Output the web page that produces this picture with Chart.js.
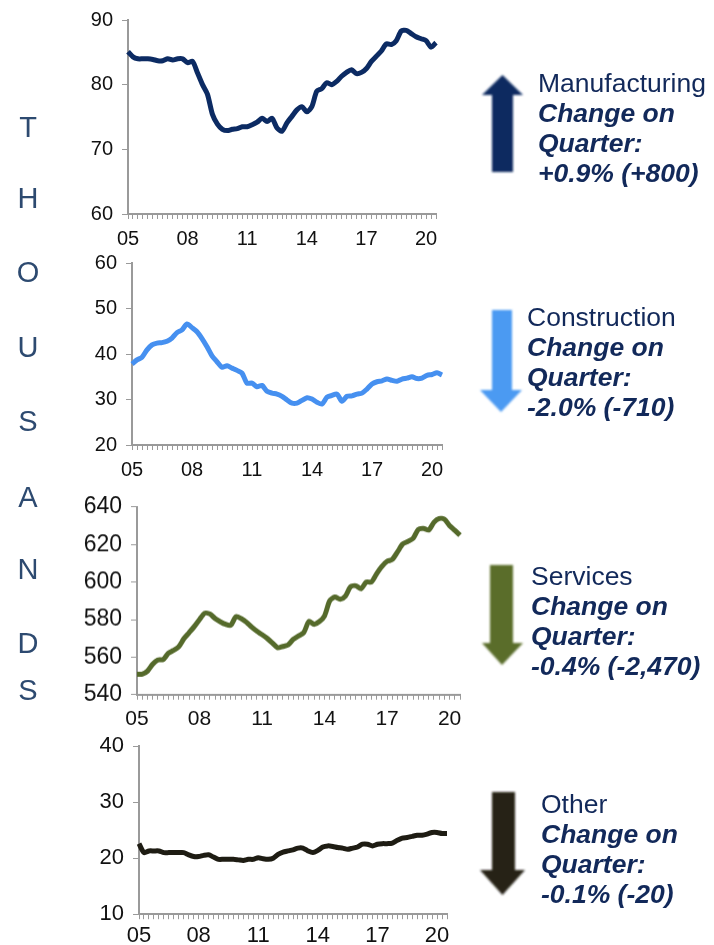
<!DOCTYPE html>
<html>
<head>
<meta charset="utf-8">
<script src="https://cdn.jsdelivr.net/npm/chart.js@4"></script>
<style>
  body { margin: 0; background: #fff; width: 714px; height: 945px; position: relative; overflow: hidden;
         font-family: "Liberation Sans", Arial, sans-serif; }
  canvas { position: absolute; }
  .letter { position: absolute; left: 13px; width: 30px; text-align: center; font-size: 29px; color: #2d4a70; line-height: 28px; }
  .note { position: absolute; color: #12295a; font-size: 26.5px; line-height: 30px; white-space: nowrap; }
  .note b { font-style: italic; display: block; }
  svg { position: absolute; left: 0; top: 0; }
</style>
</head>
<body>

<canvas id="chartManufacturing"></canvas>
<canvas id="chartConstruction"></canvas>
<canvas id="chartServices"></canvas>
<canvas id="chartOther"></canvas>

<svg width="714" height="945">
  <defs><filter id="soft"><feGaussianBlur stdDeviation="0.8"/></filter></defs>
  <polygon filter="url(#soft)" fill="#0d2a60" points="492,172 492,95 482,95 502.5,75 523,95 513,95 513,172"/>
  <polygon filter="url(#soft)" fill="#4b9af2" points="492,310 512,310 512,390 522,390 501,412 480,390 492,390"/>
  <polygon filter="url(#soft)" fill="#5a6d2c" points="490,565 513,565 513,643 523,643 502,665 482,643 490,643"/>
  <polygon filter="url(#soft)" fill="#262419" points="492,792 515,792 515,870 525,870 502.5,895 480,870 492,870"/>
</svg>

<div class="note" style="left:538px; top:68px;">Manufacturing<b>Change on</b><b>Quarter:</b><b>+0.9% (+800)</b></div>
<div class="note" style="left:527px; top:302px;">Construction<b>Change on</b><b>Quarter:</b><b>-2.0% (-710)</b></div>
<div class="note" style="left:531px; top:561px;">Services<b>Change on</b><b>Quarter:</b><b>-0.4% (-2,470)</b></div>
<div class="note" style="left:541px; top:789px;">Other<b>Change on</b><b>Quarter:</b><b>-0.1% (-20)</b></div>

<div id="thousands"></div>

<script>
// quarterly, 2005 Q1 to 2020 Q3
const years = ['05','06','07','08','09','10','11','12','13','14','15','16','17','18','19','20'];
const quarters = [];
years.forEach(y => { for (let q = 1; q <= 4; q++) quarters.push(y + ' Q' + q); });
quarters.length = 63;

const manufacturing = [85.1, 84.3, 84.0, 84.0, 84.0, 83.9, 83.7, 83.7, 84.0, 83.8,
  84.0, 84.0, 83.4, 83.6, 81.8, 80.0, 78.5, 75.4, 73.9, 73.1,
  72.9, 73.1, 73.2, 73.5, 73.5, 73.8, 74.2, 74.8, 74.3, 74.8,
  73.3, 72.8, 74.1, 75.1, 76.1, 76.6, 75.8, 76.6, 79.0, 79.4,
  80.3, 80.0, 80.5, 81.3, 81.9, 82.3, 81.7, 81.9, 82.5, 83.6,
  84.4, 85.2, 86.3, 86.2, 86.8, 88.3, 88.4, 87.9, 87.4, 87.1,
  86.8, 85.8, 86.5];

const construction = [37.8, 38.7, 39.3, 40.9, 42.0, 42.4, 42.5, 42.8, 43.5, 44.7,
  45.3, 46.6, 45.8, 44.9, 43.4, 41.6, 39.6, 38.3, 37.1, 37.4,
  36.9, 36.4, 35.8, 33.6, 33.6, 32.8, 33.1, 31.8, 31.4, 31.2,
  30.7, 29.9, 29.2, 29.2, 29.8, 30.4, 30.1, 29.4, 29.0, 30.5,
  30.9, 31.2, 29.6, 30.7, 30.8, 31.2, 31.4, 32.3, 33.4, 33.9,
  34.1, 34.5, 34.2, 34.0, 34.5, 34.7, 35.0, 34.6, 34.7, 35.3,
  35.5, 35.9, 35.4];

const services = [550.9, 550.9, 552.5, 556.2, 558.5, 558.7, 562.0, 563.6, 565.5, 569.8,
  573.0, 576.3, 580.0, 583.4, 583.0, 580.5, 578.8, 577.5, 577.0, 581.6,
  580.5, 578.6, 576.0, 573.8, 572.0, 570.0, 567.5, 565.0, 565.7, 566.5,
  569.5, 571.3, 573.0, 579.0, 577.5, 578.9, 582.0, 590.0, 592.0, 590.8,
  592.5, 597.5, 598.0, 596.4, 600.0, 600.0, 604.4, 608.3, 611.0, 612.0,
  616.0, 620.2, 621.6, 623.2, 628.0, 628.5, 627.7, 631.8, 633.8, 633.5,
  630.0, 627.5, 624.9];

const other = [22.6, 21.0, 21.3, 21.3, 21.3, 21.0, 21.0, 21.0, 21.0, 21.0,
  20.6, 20.3, 20.3, 20.5, 20.6, 20.2, 19.8, 19.8, 19.8, 19.8,
  19.7, 19.6, 19.8, 19.8, 20.1, 19.9, 19.8, 20.0, 20.7, 21.1,
  21.3, 21.5, 21.8, 21.8, 21.3, 21.0, 21.4, 22.0, 22.2, 22.1,
  21.9, 21.8, 21.6, 21.8, 22.0, 22.5, 22.5, 22.2, 22.5, 22.6,
  22.6, 22.7, 23.2, 23.6, 23.7, 23.9, 24.1, 24.1, 24.3, 24.6,
  24.6, 24.4, 24.4];

const tickYears = ['05', '08', '11', '14', '17', '20'];
const letters = ['T', 'H', 'O', 'U', 'S', 'A', 'N', 'D', 'S'];
const letterTops = [113, 184, 258, 333, 407, 483, 555, 629, 676];

const holder = document.getElementById('thousands');
letters.forEach((l, i) => {
  const d = document.createElement('div');
  d.className = 'letter';
  d.style.top = letterTops[i] + 'px';
  d.textContent = l;
  holder.appendChild(d);
});

const AXIS_W = 72, AXIS_H = 40, PAD_T = 16, PAD_R = 14;

function makeChart(id, values, color, yMin, yMax, step, box, yFont, xFont, xPad) {
  const c = document.getElementById(id);
  const w = box.r - box.l + AXIS_W + PAD_R;
  const h = box.b - box.t + PAD_T + AXIS_H;
  c.width = w; c.height = h;
  const chart = new Chart(c, {
    type: 'line',
    data: {
      labels: quarters,
      datasets: [{
        data: values,
        borderColor: color,
        borderWidth: 5,
        pointRadius: 0,
        tension: 0.25,
        fill: false
      }]
    },
    options: {
      responsive: false,
      maintainAspectRatio: false,
      animation: false,
      layout: { padding: { top: PAD_T, right: PAD_R, left: 0, bottom: 0 } },
      plugins: { legend: { display: false }, tooltip: { enabled: false } },
      scales: {
        x: {
          offset: false,
          grid: { drawOnChartArea: false, offset: false, tickLength: 5, color: '#9a9a9a' },
          border: { color: '#9a9a9a', width: 2 },
          ticks: {
            autoSkip: false, maxRotation: 0, padding: xPad,
            color: '#111', font: { family: 'Liberation Sans', size: xFont },
            callback: (v, i) => i % 12 === 0 ? tickYears[i / 12] : ''
          },
          afterFit: s => { s.height = AXIS_H; }
        },
        y: {
          min: yMin, max: yMax,
          grid: { drawOnChartArea: false, tickLength: 6, color: '#9a9a9a' },
          border: { color: '#9a9a9a', width: 2 },
          ticks: {
            stepSize: step, padding: 9,
            color: '#111', font: { family: 'Liberation Sans', size: yFont }
          },
          afterFit: s => { s.width = AXIS_W; }
        }
      }
    }
  });
  // line the plot area up with the target box
  const ca = chart.chartArea;
  const nw = w + (box.r - box.l) - (ca.right - ca.left);
  const nh = h + (box.b - box.t) - (ca.bottom - ca.top);
  if (nw !== w || nh !== h) chart.resize(nw, nh);
  c.style.left = (box.l - chart.chartArea.left) + 'px';
  c.style.top = (box.t - chart.chartArea.top) + 'px';
  return chart;
}

makeChart('chartManufacturing', manufacturing, '#0c2b63', 60, 90, 10, { l: 128, r: 436, t: 20, b: 214 }, 20, 20, 8);
makeChart('chartConstruction', construction, '#4690f0', 20, 60, 10, { l: 132, r: 442, t: 263, b: 445 }, 20, 20, 8);
makeChart('chartServices', services, '#556a2b', 540, 640, 20, { l: 137, r: 460, t: 507, b: 694 }, 23, 21, 7);
makeChart('chartOther', other, '#1e1c13', 10, 40, 10, { l: 139, r: 447, t: 746, b: 914 }, 22, 22, 4);
</script>
</body>
</html>
